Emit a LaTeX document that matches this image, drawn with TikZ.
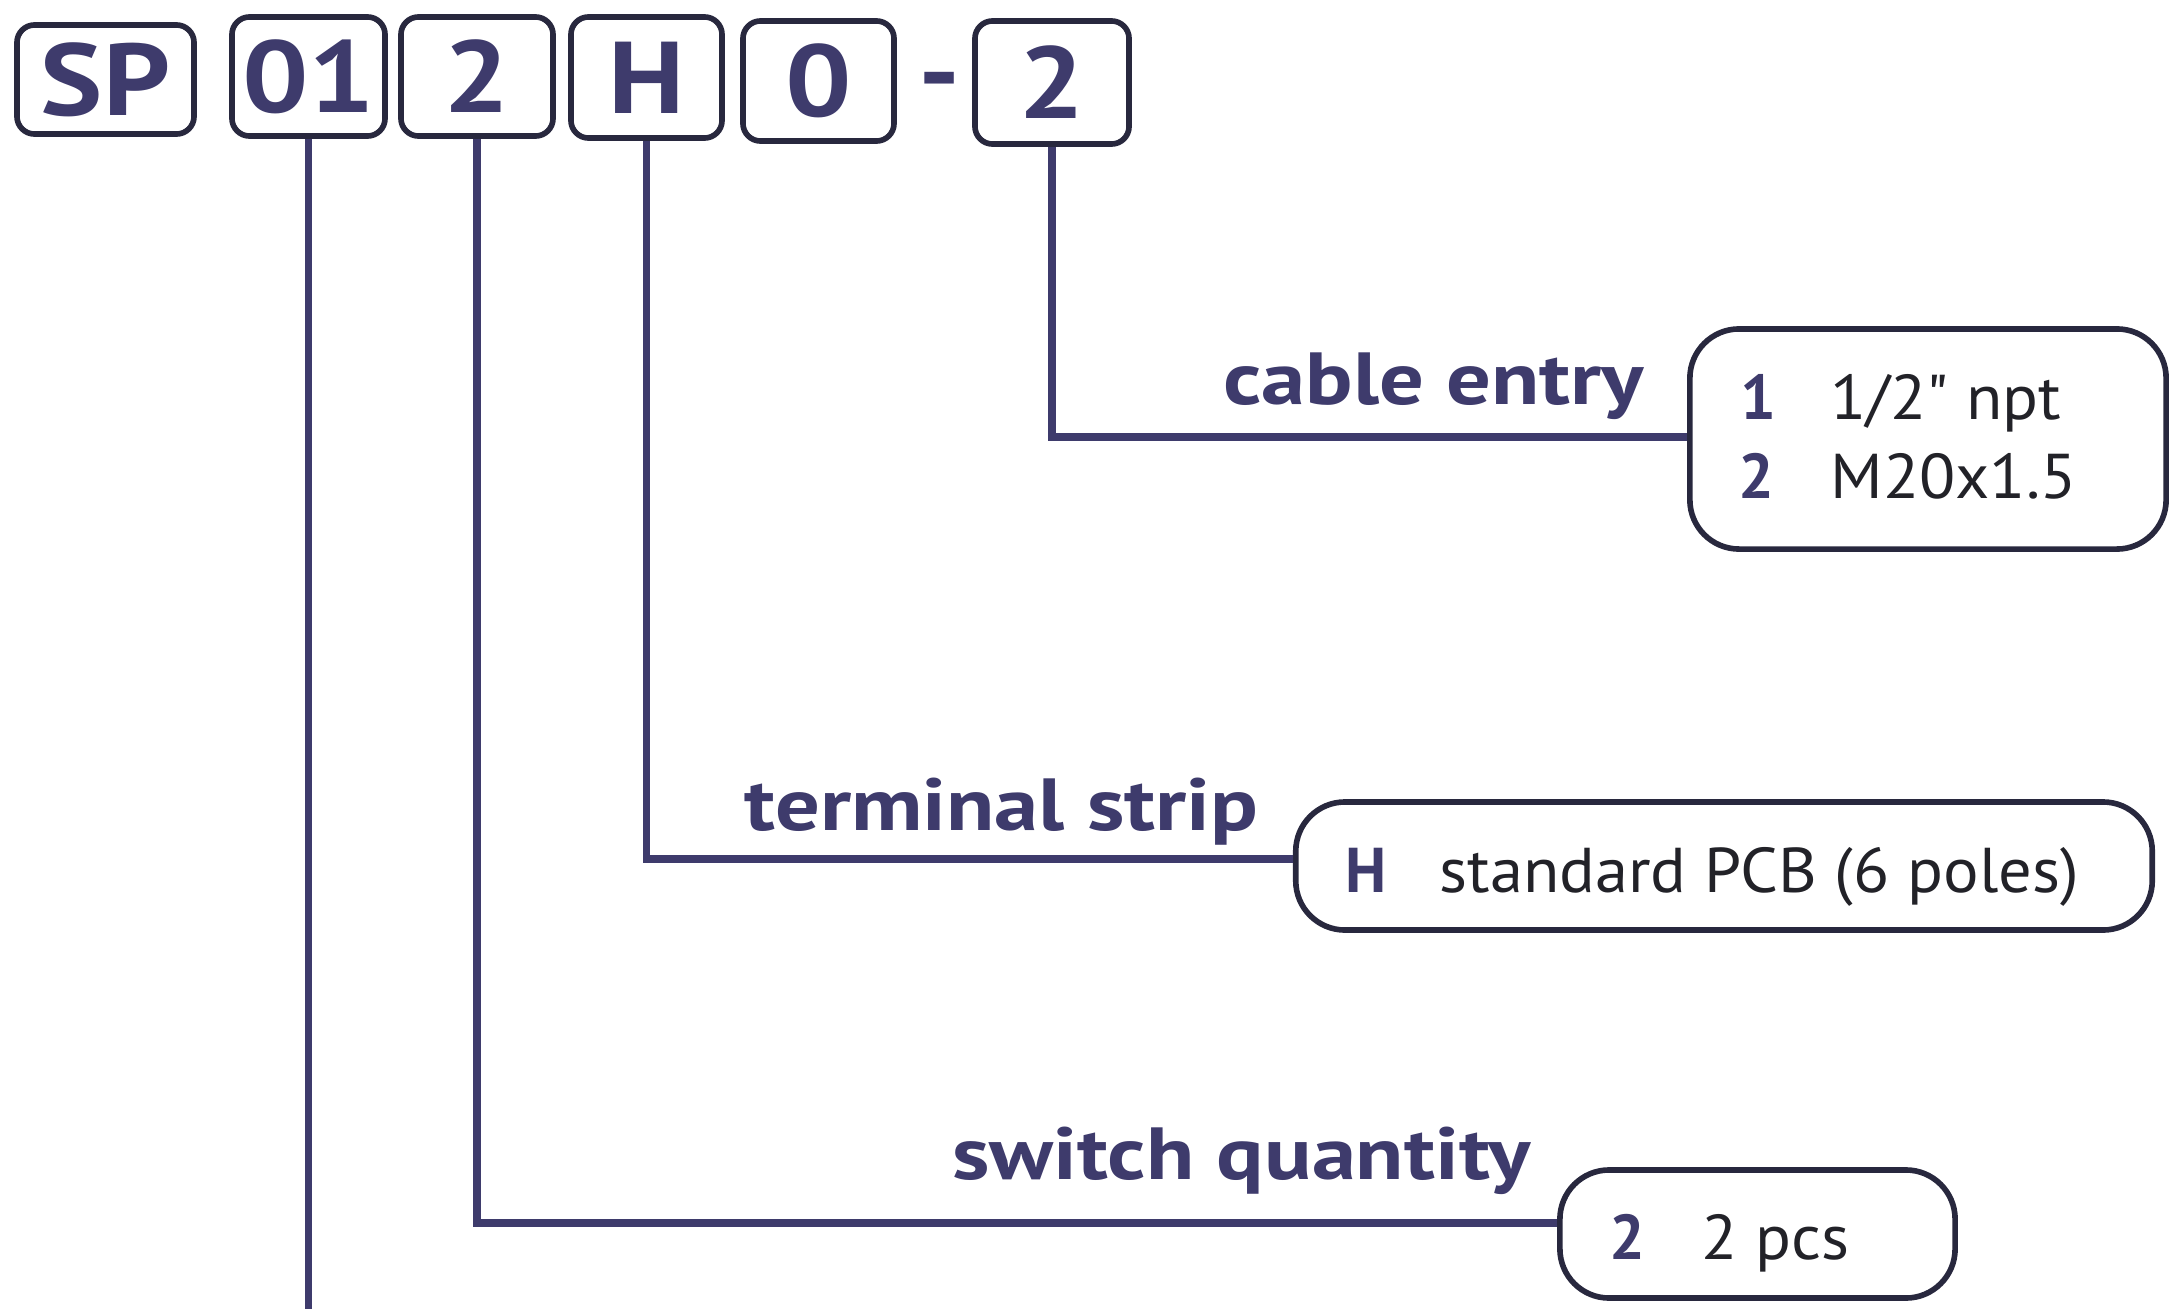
\documentclass[tikz,border=0pt]{standalone}
\usepackage{fontspec}
\setmainfont{PT Sans}
\newfontfamily\widebold[FakeStretch=1.2]{PT Sans Bold}
\newfontfamily\codefont[FakeStretch=1.15]{PT Sans Bold}
\newfontfamily\opttext[FakeStretch=1.05]{PT Sans}
\definecolor{navy}{RGB}{62,59,108}
\definecolor{boxline}{RGB}{40,40,62}
\definecolor{txt}{RGB}{34,34,40}
\tikzset{
  codebox/.style={draw=boxline,line width=1.6pt,rounded corners=5pt,text=navy,
    font=\fontsize{29}{29}\codefont,inner sep=0pt},
  optbox/.style={draw=boxline,line width=1.6pt,rounded corners=14pt,inner sep=0pt},
  lead/.style={draw=navy,line width=2pt},
  lab/.style={text=navy,font=\fontsize{21}{21}\widebold,inner sep=0pt},
  optkey/.style={text=navy,font=\fontsize{18}{18}\selectfont\bfseries,inner sep=0pt,anchor=base west},
  opttxt/.style={text=txt,font=\fontsize{18}{18}\opttext,inner sep=0pt,anchor=base west},
}
\begin{document}
\begin{tikzpicture}[x=0.01cm,y=-0.01cm]
\useasboundingbox (0,0) rectangle (2169,1309);
% code boxes
\node[codebox,minimum width=1.77cm,minimum height=1.09cm] (sp) at (105.5,79.5) {SP};
\node[codebox,minimum width=1.53cm,minimum height=1.19cm] (c01) at (308.5,76.5) {01};
\node[codebox,minimum width=1.52cm,minimum height=1.19cm] (c2) at (477,76.5) {2};
\node[codebox,minimum width=1.51cm,minimum height=1.21cm] (cH) at (646.5,77.5) {H};
\node[codebox,minimum width=1.51cm,minimum height=1.20cm] (c0) at (818.5,81) {0};
\node[text=navy,font=\fontsize{29}{29}\codefont,inner sep=0pt] (dash) at (940,90) {-};
\node[codebox,minimum width=1.54cm,minimum height=1.23cm] (c2b) at (1052,82.5) {2};
% option boxes
\node[optbox,minimum width=4.76cm,minimum height=2.20cm] (cab) at (1928,439) {};
\node[optbox,minimum width=8.56cm,minimum height=1.28cm] (ter) at (1724,866) {};
\node[optbox,minimum width=3.95cm,minimum height=1.28cm] (swi) at (1757.5,1234) {};
% leaders
\coordinate (bot) at (307,1309);
\draw[lead] (c01.south) -- (c01.south |- bot);
\draw[lead] (c2.south) |- ([yshift=0.11cm]swi.west);
\draw[lead] (cH.south) |- ([yshift=0.07cm]ter.west);
\draw[lead] (c2b.south) |- ([yshift=0.02cm]cab.west);
% labels
\node[lab,anchor=base east] (lcab) at (1645,404) {cable entry};
\node[lab,anchor=base east] (lter) at (1259,830) {terminal strip};
\node[lab,anchor=base east] (lswi) at (1531,1179) {switch quantity};
% option texts
\node[optkey] (k1) at (1740,419) {1};
\node[opttxt] (t1) at (1830,419) {1/2\char34\ npt};
\node[optkey] (k2) at (1738,498) {2};
\node[opttxt] (t2) at (1830,498) {M20x1.5};
\node[optkey] (kH) at (1345,892) {H};
\node[opttxt] (tH) at (1439,892) {standard PCB (6 poles)};
\node[optkey] (ks) at (1609,1259) {2};
\node[opttxt] (ts) at (1701,1259) {2 pcs};
\end{tikzpicture}
\end{document}
